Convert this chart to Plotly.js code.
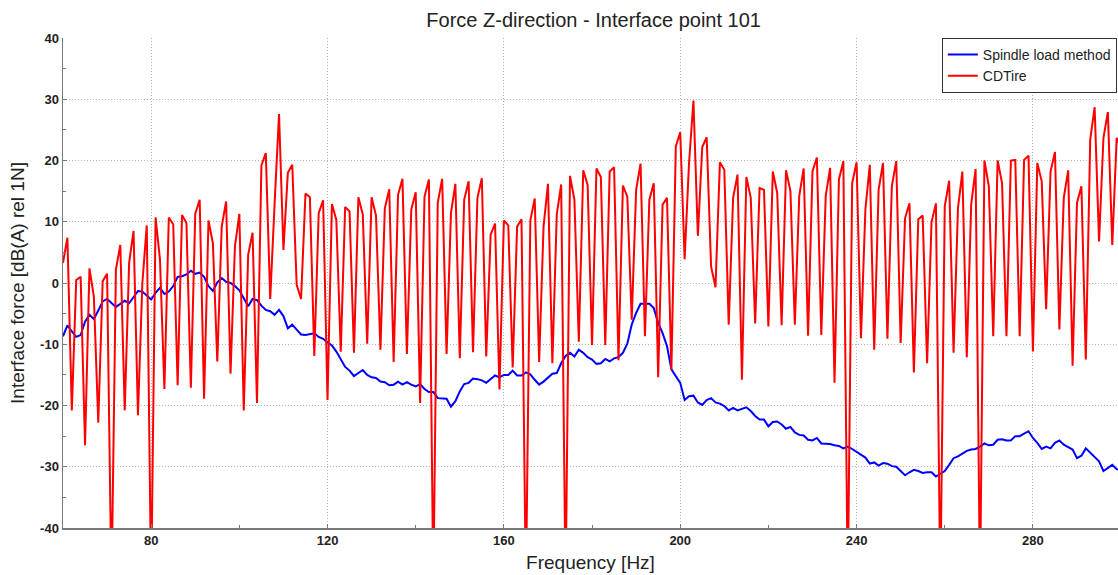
<!DOCTYPE html>
<html>
<head>
<meta charset="utf-8">
<script src="https://cdn.plot.ly/plotly-3.0.1.min.js"></script>
<style>html,body{margin:0;padding:0;background:#fff;overflow:hidden}#chart{width:1118px;height:575px}</style>
</head>
<body>
<div id="chart"></div>
<script>
const frequency = [60,61,62,63,64,65,66,67,68,69,70,71,72,73,74,75,76,77,78,79,
80,81,82,83,84,85,86,87,88,89,90,91,92,93,94,95,96,97,98,99,
100,101,102,103,104,105,106,107,108,109,110,111,112,113,114,115,116,117,118,119,
120,121,122,123,124,125,126,127,128,129,130,131,132,133,134,135,136,137,138,139,
140,141,142,143,144,145,146,147,148,149,150,151,152,153,154,155,156,157,158,159,
160,161,162,163,164,165,166,167,168,169,170,171,172,173,174,175,176,177,178,179,
180,181,182,183,184,185,186,187,188,189,190,191,192,193,194,195,196,197,198,199,
200,201,202,203,204,205,206,207,208,209,210,211,212,213,214,215,216,217,218,219,
220,221,222,223,224,225,226,227,228,229,230,231,232,233,234,235,236,237,238,239,
240,241,242,243,244,245,246,247,248,249,250,251,252,253,254,255,256,257,258,259,
260,261,262,263,264,265,266,267,268,269,270,271,272,273,274,275,276,277,278,279,
280,281,282,283,284,285,286,287,288,289,290,291,292,293,294,295,296,297,298,299,300];

const spindleLoad = [-8.7,-6.9,-7.9,-8.8,-8.5,-6.3,-5.2,-5.9,-4.5,-3.0,
-2.6,-3.3,-3.9,-3.4,-2.9,-3.3,-2.3,-1.3,-1.4,-2.0,
-2.7,-1.6,-0.8,-1.8,-1.4,-0.5,1.0,1.1,1.4,2.0,
1.5,1.7,1.0,-0.5,-1.3,0.1,0.8,0.2,0.0,-0.5,
-1.2,-2.5,-3.8,-2.6,-2.8,-3.7,-4.4,-4.6,-5.2,-4.4,
-5.4,-7.4,-6.8,-7.6,-8.4,-8.5,-8.3,-8.2,-8.8,-9.1,
-9.7,-10.2,-11.2,-12.5,-13.7,-14.3,-15.2,-14.7,-14.2,-15.0,
-15.4,-15.5,-16.1,-16.2,-16.7,-16.6,-16.1,-16.6,-16.2,-16.6,
-16.9,-16.5,-17.3,-17.8,-17.8,-18.8,-18.8,-18.9,-20.2,-19.3,
-17.7,-16.5,-16.3,-15.6,-15.7,-15.9,-16.3,-15.7,-15.1,-15.4,
-15.0,-15.0,-14.3,-15.1,-15.1,-14.6,-14.9,-15.8,-16.6,-16.1,
-15.4,-14.8,-14.7,-13.1,-11.9,-11.4,-12.0,-10.9,-11.4,-12.1,
-12.5,-13.2,-13.1,-12.4,-12.8,-12.3,-12.1,-11.4,-9.9,-6.8,
-4.9,-3.4,-3.4,-3.4,-4.1,-6.5,-8.2,-10.3,-14.1,-15.2,
-16.3,-19.1,-18.5,-18.4,-19.5,-19.9,-19.1,-18.8,-19.5,-19.7,
-20.1,-20.8,-20.4,-20.8,-20.6,-20.3,-20.9,-21.7,-22.3,-22.3,
-23.4,-22.7,-22.6,-23.1,-23.8,-23.5,-24.4,-24.8,-24.9,-25.6,
-25.7,-25.3,-26.2,-26.2,-26.3,-26.5,-26.6,-27.0,-26.7,-27.1,
-27.6,-28.0,-28.5,-29.5,-29.3,-29.8,-29.4,-29.5,-29.9,-30.0,
-30.7,-31.4,-30.9,-30.5,-30.7,-31.0,-30.9,-30.9,-31.6,-31.2,
-30.7,-29.7,-28.6,-28.3,-27.8,-27.4,-27.2,-27.1,-26.7,-26.2,
-26.5,-26.4,-25.6,-25.5,-25.7,-25.7,-25.0,-25.0,-24.6,-24.2,
-25.3,-26.1,-27.1,-26.7,-27.0,-26.1,-25.7,-26.4,-26.8,-27.2,
-28.6,-28.2,-27.0,-27.7,-28.4,-29.1,-30.7,-30.2,-29.7,-30.4,-30.6];

const cdTire = [3.3,7.4,-20.8,0.5,1.0,-26.5,2.4,-2.2,-22.8,0.3,
1.5,-50,2.2,6.2,-20.8,3.3,8.5,-21.6,0.0,9.4,
-50,10.7,3.8,-17.3,10.7,9.6,-16.7,11.1,9.8,-17.1,
11.3,13.6,-18.9,10.2,6.5,-12.8,9.2,13.3,-14.8,6.0,
11.3,-20.8,4.6,8.2,-19.6,19.2,21.2,-2.6,13.0,27.6,
5.4,18.0,19.3,-0.3,-2.6,14.6,14.0,-11.9,11.4,13.5,
-19.1,12.9,10.3,-11.2,12.4,11.7,-11.4,14.0,11.2,-9.9,
14.0,11.0,-10.9,12.2,15.3,-12.9,14.4,17.0,-11.6,12.0,
14.8,-19.6,14.1,16.9,-50,13.1,17.0,-11.6,11.4,16.2,
-12.3,13.6,16.6,-11.3,13.9,17.1,-12.0,7.9,9.7,-17.4,
10.2,9.4,-13.8,9.2,10.4,-50,10.2,13.8,-12.9,9.2,
16.2,-13.1,11.2,16.1,-50,17.5,13.6,-9.6,18.4,16.0,
-10.1,18.7,17.3,-10.1,18.2,18.9,-12.6,15.9,14.1,-6.0,
15.2,19.5,-8.7,13.6,16.3,-15.4,12.8,13.9,-14.2,22.3,
24.6,3.9,19.6,29.8,7.7,22.2,23.8,2.7,-0.7,19.7,
18.5,-6.8,13.9,17.7,-15.8,17.3,13.9,-6.6,15.5,15.2,
-7.1,18.2,14.7,-6.9,18.4,15.0,-6.8,14.2,18.7,-8.6,
18.2,20.5,-8.5,14.2,18.8,-16.3,16.9,19.9,-50,16.3,
19.7,-9.0,12.0,19.3,-10.9,15.2,19.6,-9.1,15.8,19.9,
-9.8,10.6,13.0,-14.6,10.4,11.0,-13.1,9.9,13.0,-50,
12.5,16.7,-11.4,12.2,18.2,-12.1,12.8,18.6,-50,20.0,
15.8,-8.7,20.0,16.3,-8.7,20.0,20.1,-8.7,20.1,20.8,
-11.2,19.6,16.6,-4.3,18.2,21.4,-7.6,13.9,18.4,-13.5,
13.1,15.8,-12.5,23.4,28.7,6.8,23.7,27.9,6.2,23.7,22.0];

const seriesNames = ["Spindle load method", "CDTire"];
const xTicks = [80, 120, 160, 200, 240, 280];
const yTicks = [-40, -30, -20, -10, 0, 10, 20, 30, 40];

const FONT = "Liberation Sans, Arial, sans-serif";

const traces = [
  {x: frequency, y: spindleLoad, name: seriesNames[0], type: "scatter", mode: "lines",
   line: {color: "#0000ff", width: 2}},
  {x: frequency, y: cdTire, name: seriesNames[1], type: "scatter", mode: "lines",
   line: {color: "#ff0000", width: 2}}
];

const axisCommon = {
  showline: true, linecolor: "#7a7a7a", linewidth: 1.5,
  mirror: false, zeroline: false,
  showgrid: true, gridcolor: "#b4b4b4", griddash: "1px,2px", gridwidth: 1,
  ticks: "inside", ticklen: 4, tickcolor: "#7a7a7a",
  tickfont: {family: FONT, size: 13, color: "#222", weight: "bold"},
  fixedrange: true
};

const layout = {
  width: 1118, height: 575,
  margin: {l: 63, r: 0, t: 38, b: 47, autoexpand: false},
  paper_bgcolor: "#fff", plot_bgcolor: "#fff",
  title: {text: "Force Z-direction - Interface point 101", font: {family: FONT, size: 20, color: "#222"},
          x: 0.531, xanchor: "center", y: 0.965, yanchor: "middle"},
  xaxis: Object.assign({}, axisCommon, {
    range: [60, 299.3], tickvals: xTicks, ticktext: xTicks.map(String),
    minor: {dtick: 20, tick0: 60, ticks: "inside", ticklen: 3, tickcolor: "#7a7a7a", showgrid: false},
    title: {text: "Frequency [Hz]", font: {family: FONT, size: 19, color: "#222"}, standoff: 8},
    automargin: false
  }),
  yaxis: Object.assign({}, axisCommon, {
    range: [-40, 40], tickvals: yTicks, ticktext: yTicks.map(String),
    minor: {dtick: 5, tick0: 0, ticks: "inside", ticklen: 3, tickcolor: "#7a7a7a", showgrid: false},
    title: {text: "Interface force [dB(A) rel 1N]", font: {family: FONT, size: 19, color: "#222"}, standoff: 10},
    automargin: false
  }),
  showlegend: true,
  legend: {x: 0.833, xanchor: "left", y: 1.0, yanchor: "top",
           bgcolor: "#fff", bordercolor: "#333", borderwidth: 1,
           font: {family: FONT, size: 14, color: "#222"},
           tracegroupgap: 0, itemwidth: 30}
};

Plotly.newPlot("chart", traces, layout, {displayModeBar: false, staticPlot: true});
</script>
</body>
</html>
